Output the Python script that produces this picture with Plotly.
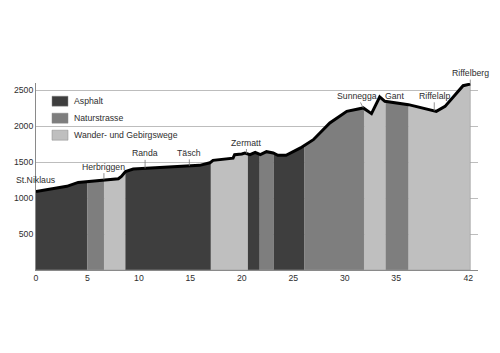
import numpy as np
import plotly.graph_objects as go

# Elevation profile (km, m)
km = [0, 3.0, 4.1, 5.1, 6.5, 8.0, 8.3, 8.7, 9.45, 15.9, 16.9, 17.2, 19.15, 19.3, 20.0, 20.3,
      20.8, 21.3, 21.8, 22.4, 23.05, 23.5, 24.3, 25.7, 26.95, 28.55, 30.2, 31.8, 32.6, 33.4,
      33.9, 36.2, 38.9, 39.75, 41.5, 42.2]
elev = [1090, 1163, 1218, 1232, 1256, 1268, 1302, 1370, 1404, 1455, 1490, 1525, 1555, 1603, 1613, 1627,
        1603, 1636, 1603, 1645, 1627, 1595, 1595, 1697, 1812, 2044, 2206, 2253, 2174, 2406,
        2345, 2299, 2206, 2275, 2563, 2585]

# Surface segments (start km, end km, type)
seg_start = [0, 5.0, 6.63, 8.7, 17.0, 20.6, 21.75, 23.1, 26.1, 31.9, 34.0, 36.2]
seg_end = [5.0, 6.63, 8.7, 17.0, 20.6, 21.75, 23.1, 26.1, 31.9, 34.0, 36.2, 42.2]
seg_type = ["Asphalt", "Naturstrasse", "Wander- und Gebirgswege", "Asphalt",
            "Wander- und Gebirgswege", "Asphalt", "Naturstrasse", "Asphalt",
            "Naturstrasse", "Wander- und Gebirgswege", "Naturstrasse",
            "Wander- und Gebirgswege"]
legend_names = ["Asphalt", "Naturstrasse", "Wander- und Gebirgswege"]
colors = {"Asphalt": "#3e3e3e", "Naturstrasse": "#7e7e7e",
          "Wander- und Gebirgswege": "#bfbfbf"}

# Place labels (km of marker, elevation, pixel offsets)
place_names = ["Herbriggen", "Randa", "Täsch", "Zermatt", "Sunnegga", "Riffelalp", "Riffelberg"]
place_km = [6.6, 10.6, 14.9, 20.45, 31.8, 38.7, 42.2]
place_ax = [0, 0, 0, 0, -6, 0, 0]
place_ay = [-13, -15, -13, -11, -12, -15, -11]

x_ticks = [0, 5, 10, 15, 20, 25, 30, 35, 42]
y_ticks = [500, 1000, 1500, 2000, 2500]

FONT = "Liberation Sans, Arial, sans-serif"
TXT = "#2e2e2e"

fig = go.Figure()
km_a = np.array(km)
el_a = np.array(elev)
for s, e, t in zip(seg_start, seg_end, seg_type):
    inside = (km_a > s) & (km_a < e)
    xs = [s] + list(km_a[inside]) + [e]
    ys = [float(np.interp(s, km_a, el_a))] + list(el_a[inside]) + [float(np.interp(e, km_a, el_a))]
    px = xs + [e, s]
    py = ys + [0, 0]
    fig.add_trace(go.Scatter(x=px, y=py, fill="toself", fillcolor=colors[t],
                             mode="lines", line=dict(color="#9a9a9a", width=0.6),
                             showlegend=False, hoverinfo="skip"))

fig.add_trace(go.Scatter(x=km, y=elev, mode="lines", line=dict(color="black", width=3),
                         showlegend=False, cliponaxis=False))

ann = []
for n, k, ax, ay in zip(place_names, place_km, place_ax, place_ay):
    ann.append(dict(x=k, y=float(np.interp(k, km_a, el_a)), text=n, showarrow=True,
                    ax=ax, ay=ay, arrowhead=0, arrowwidth=0.8, arrowcolor="#777",
                    standoff=0, startstandoff=0,
                    font=dict(family=FONT, size=8.7, color=TXT)))
ann.append(dict(x=0, y=1256, text="St.Niklaus", showarrow=False,
                font=dict(family=FONT, size=8.7, color=TXT)))
ann.append(dict(x=34.8, y=2424, text="Gant", showarrow=False,
                font=dict(family=FONT, size=8.7, color=TXT)))

# legend drawn in paper coordinates
L, W, T, H = 36, 442, 83.3, 187.0
def pxx(p):
    return (p - L) / W
def pxy(p):
    return (T + H - p) / H
shapes = []
for i, n in enumerate(legend_names):
    yc = 101.5 + i * 17
    shapes.append(dict(type="rect", xref="paper", yref="paper",
                       x0=pxx(52), x1=pxx(68), y0=pxy(yc + 5), y1=pxy(yc - 5),
                       fillcolor=colors[n], line=dict(color="#888", width=0.5)))
    ann.append(dict(xref="paper", yref="paper", x=pxx(71.5), y=pxy(yc), text=n,
                    showarrow=False, xanchor="left", yanchor="middle",
                    font=dict(family=FONT, size=8.7, color=TXT)))

fig.update_layout(
    width=500, height=353,
    margin=dict(l=36, r=22, t=83, b=83),
    paper_bgcolor="white", plot_bgcolor="white",
    annotations=ann, shapes=shapes,
    xaxis=dict(range=[0, 42.95], tickvals=x_ticks, ticktext=[str(v) for v in x_ticks],
               showgrid=False, zeroline=False, showline=True, linecolor="#8a8a8a",
               linewidth=1, ticks="", tickfont=dict(family=FONT, size=8.7, color=TXT)),
    yaxis=dict(range=[0, 2600], tickvals=y_ticks, showgrid=True, gridcolor="#bdbdbd",
               gridwidth=1, zeroline=False, showline=True, linecolor="#8a8a8a",
               linewidth=1, ticks="", tickfont=dict(family=FONT, size=8.7, color=TXT)),
)

fig.write_html("out.html")
